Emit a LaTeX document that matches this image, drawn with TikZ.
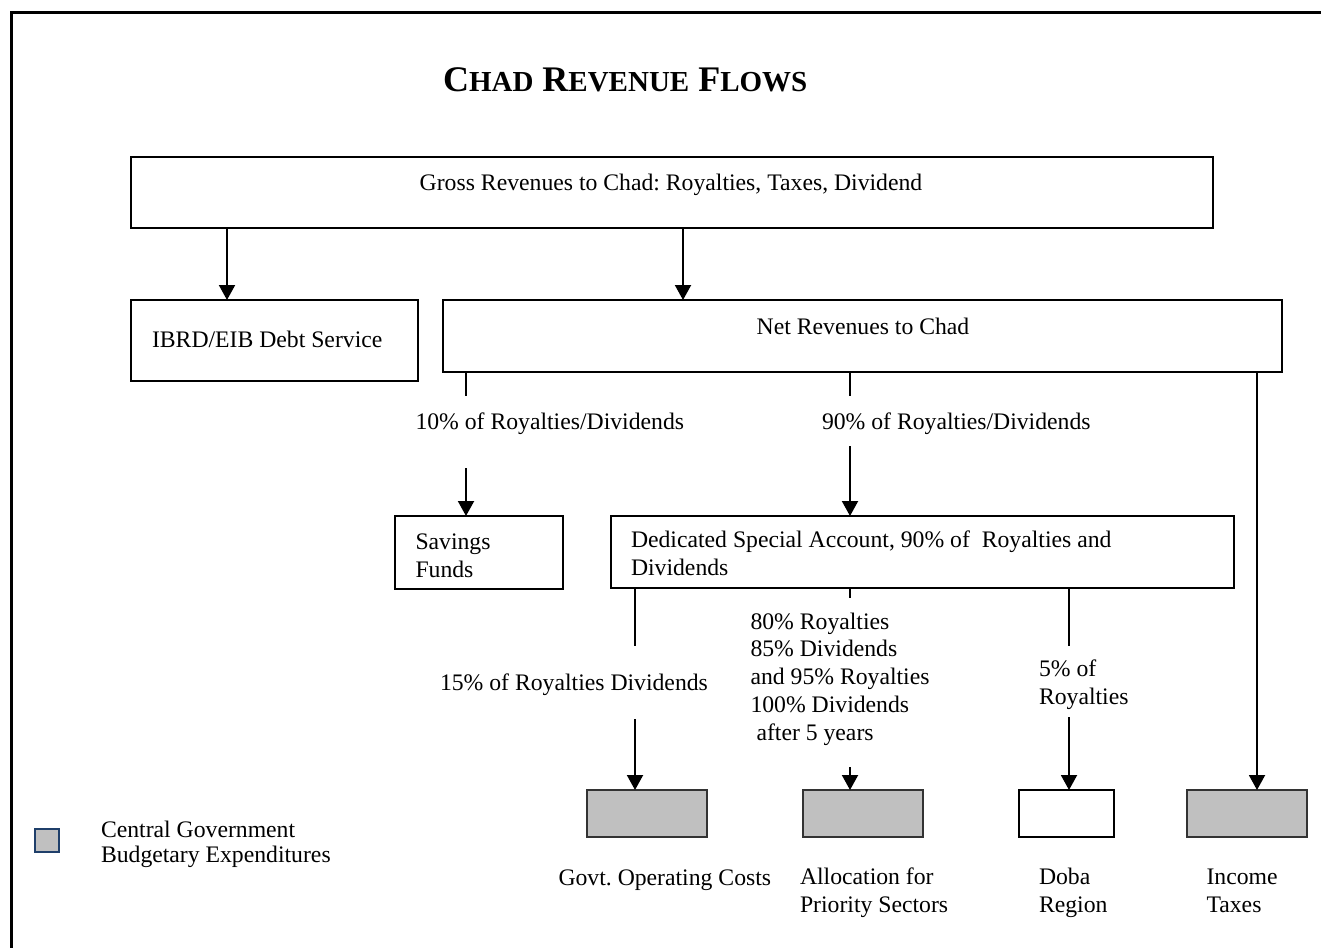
\documentclass[tikz,border=0pt]{standalone}
\usepackage{fontspec}
\setmainfont{Liberation Serif}
\usetikzlibrary{arrows.meta}
\definecolor{boxgray}{HTML}{C0C0C0}
\definecolor{legblue}{HTML}{1F3F6A}
\newcommand{\smc}[1]{{\fontsize{29}{40}\selectfont #1}}
\begin{document}
\begin{tikzpicture}[x=1pt,y=1pt,
  every node/.style={font=\fontsize{23.7}{27.7}\selectfont\frenchspacing, inner sep=0pt, outer sep=0pt},
  box/.style={draw, line width=2pt, anchor=north west},
  grbox/.style={draw=black!80, line width=2pt, fill=boxgray, anchor=north west},
  txt/.style={anchor=base west, align=left},
  ln/.style={line width=2pt},
  arr/.style={line width=2pt, -{Triangle[width=16pt,length=15pt]}}]
\useasboundingbox (0,0) rectangle (1321,-947);
\draw[line width=3pt] (11,-960) -- (11,-13) -- (1340,-13);

% title
\node[anchor=base west] (title) at (443,-92)
  {\bfseries\fontsize{36}{40}\selectfont C\smc{HAD} R\smc{EVENUE} F\smc{LOWS}};

% boxes
\node[box, minimum width=1082pt, minimum height=71pt] (gross) at (131,-157) {};
\node[box, minimum width=287pt, minimum height=81pt] (ibrd) at (131,-300) {};
\node[box, minimum width=839pt, minimum height=72pt] (net) at (443,-300) {};
\node[box, minimum width=168pt, minimum height=73pt] (sav) at (395,-516) {};
\node[box, minimum width=623pt, minimum height=72pt] (ded) at (611,-516) {};
\node[grbox, minimum width=120pt, minimum height=47pt] (govt) at (587,-790) {};
\node[grbox, minimum width=120pt, minimum height=47pt] (alloc) at (803,-790) {};
\node[box, minimum width=95pt, minimum height=47pt] (doba) at (1019,-790) {};
\node[grbox, minimum width=120pt, minimum height=47pt] (inc) at (1187,-790) {};
\node[draw=legblue, line width=1.5pt, fill=boxgray, anchor=north west,
      minimum width=24pt, minimum height=23pt] (leg) at (35,-829) {};

% box texts (multi-line nodes: base = last line's baseline)
\node[anchor=base] (grosst) at (671,-190) {Gross Revenues to Chad: Royalties, Taxes, Dividend};
\node[txt] (ibrdt) at (152,-347) {IBRD/EIB Debt Service};
\node[anchor=base] (nett) at (863,-334) {Net Revenues to Chad};
\node[txt] (savt) at (415.5,-577) {Savings\\Funds};
\node[txt] (dedt) at (631,-575) {Dedicated Special Account, 90\% of\ \ Royalties and\\Dividends};

% connector labels
\node[txt] (l10) at (415.5,-429) {10\% of Royalties/Dividends};
\node[txt] (l90) at (822,-429) {90\% of Royalties/Dividends};
\node[txt] (l15) at (440,-690) {15\% of Royalties Dividends};
\node[txt] (l80) at (750.5,-740) {80\% Royalties\\85\% Dividends\\and 95\% Royalties\\100\% Dividends\\\hspace*{6pt}after 5 years};
\node[txt] (l5) at (1039,-704) {5\% of\\Royalties};

% bottom labels
\node[txt] (govtt) at (558.5,-885) {Govt. Operating Costs};
\node[txt] (allott) at (800,-912) {Allocation for\\Priority Sectors};
\node[txt] (dobat) at (1039,-912) {Doba\\Region};
\node[txt] (inct) at (1206.5,-912) {Income\\Taxes};
\node[txt, font=\fontsize{23.7}{25}\selectfont] (legt) at (101,-862) {Central Government\\Budgetary Expenditures};

% connectors
\draw[arr] ([xshift=96pt]gross.south west) -- ([xshift=96pt]ibrd.north west);
\draw[arr] ([xshift=552pt]gross.south west) -- ([xshift=240pt]net.north west);
\draw[ln] ([xshift=23pt]net.south west) -- ++(0,-24);
\draw[arr] ([xshift=71pt,yshift=48pt]sav.north west) -- ([xshift=71pt]sav.north west);
\draw[ln] ([xshift=407pt]net.south west) -- ++(0,-24);
\draw[arr] ([xshift=239pt,yshift=70pt]ded.north west) -- ([xshift=239pt]ded.north west);
\draw[arr] ([xshift=-25pt]net.south east) -- ([xshift=70pt]inc.north west);
\draw[ln] ([xshift=24pt]ded.south west) -- ++(0,-58);
\draw[arr] ([xshift=48pt,yshift=71pt]govt.north west) -- ([xshift=48pt]govt.north west);
\draw[ln] ([xshift=239pt]ded.south west) -- ++(0,-10);
\draw[arr] ([xshift=47pt,yshift=23pt]alloc.north west) -- ([xshift=47pt]alloc.north west);
\draw[ln] ([xshift=458pt]ded.south west) -- ++(0,-58);
\draw[arr] ([xshift=50pt,yshift=73pt]doba.north west) -- ([xshift=50pt]doba.north west);
\end{tikzpicture}
\end{document}
